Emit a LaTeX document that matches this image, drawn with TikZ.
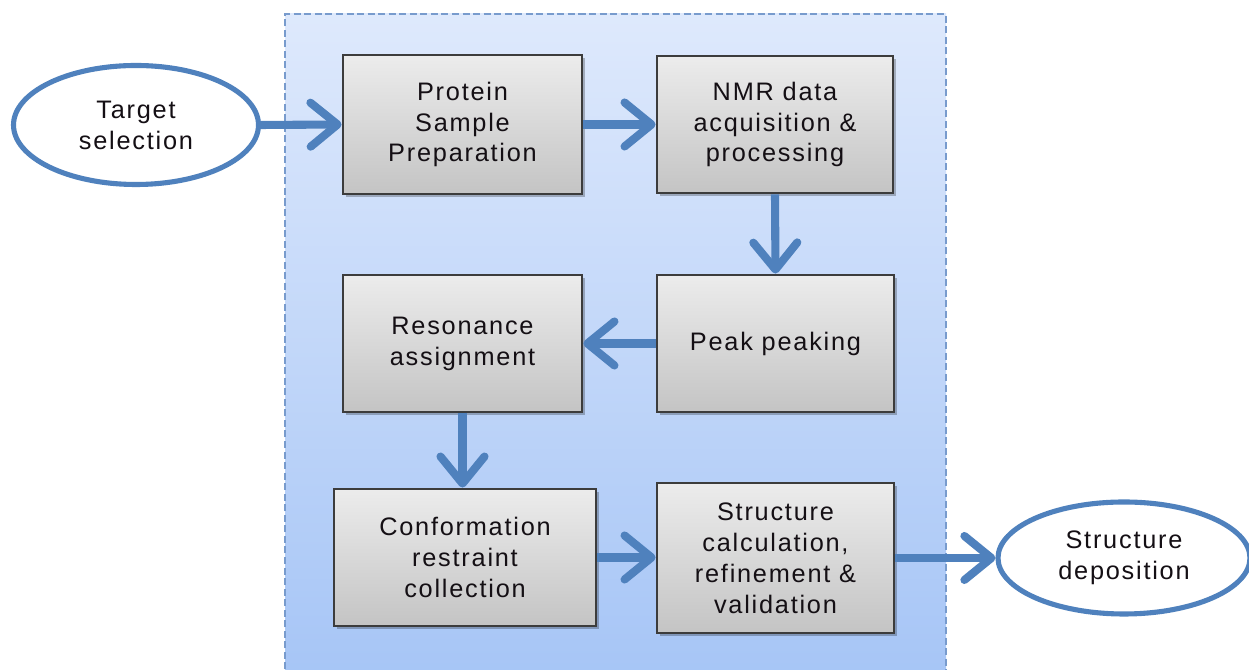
\documentclass[tikz,border=0pt]{standalone}
\usepackage{fontspec}
\setmainfont{Liberation Sans}[LetterSpace=7]
\usetikzlibrary{arrows.meta,shapes.geometric,shadows}

\definecolor{flowblue}{RGB}{79,129,189}
\definecolor{paneltop}{RGB}{222,233,252}
\definecolor{panelbot}{RGB}{166,197,246}
\definecolor{paneledge}{RGB}{120,155,205}
\definecolor{boxtop}{RGB}{236,236,236}
\definecolor{boxbot}{RGB}{196,196,196}
\definecolor{boxedge}{RGB}{60,60,60}
\definecolor{inktext}{RGB}{20,15,20}

\tikzset{
  label text/.style={font=\fontsize{7.2}{8.8}\selectfont, text=inktext, align=center},
  stepbox/.style={label text, rectangle, draw=boxedge, line width=0.8pt,
    top color=boxtop, bottom color=boxbot, inner sep=0pt,
    drop shadow={shadow xshift=0.025cm, shadow yshift=-0.035cm, opacity=0.25, fill=black}},
  endpoint/.style={label text, ellipse, draw=flowblue, line width=1.45pt, fill=white, inner sep=0pt},
  flow/.style={draw=flowblue, line width=2.3pt,
    -{Straight Barb[length=0.27cm, width=0.44cm, line cap=round, line join=round]}},
}

\begin{document}
\begin{tikzpicture}
\useasboundingbox (0,0) rectangle (12.49,6.70);
\begin{scope}
\clip (0,0) rectangle (12.49,6.70);

% pipeline panel
\shade[top color=paneltop, bottom color=panelbot] (2.85,-0.1) rectangle (9.46,6.56);
\draw[paneledge, dashed, line width=0.5pt, dash pattern=on 2pt off 1pt] (2.85,-0.1) rectangle (9.46,6.56);

% start and end
\node[endpoint, minimum width=2.45cm, minimum height=1.19cm] (target) at (1.36,5.45) {Target\\selection};
\node[endpoint, minimum width=2.52cm, minimum height=1.12cm] (deposit) at (11.24,1.12) {Structure\\deposition};

% processing steps
\node[stepbox, minimum width=2.39cm, minimum height=1.39cm] (sample) at (4.625,5.455) {Protein\\Sample\\Preparation};
\node[stepbox, minimum width=2.36cm, minimum height=1.37cm] (nmr) at (7.75,5.455) {NMR data\\acquisition \&\\processing};
\node[stepbox, minimum width=2.37cm, minimum height=1.37cm] (peak) at (7.755,3.265) {Peak peaking};
\node[stepbox, minimum width=2.39cm, minimum height=1.37cm] (reson) at (4.625,3.265) {Resonance\\assignment};
\node[stepbox, minimum width=2.62cm, minimum height=1.37cm] (conf) at (4.65,1.125) {Conformation\\restraint\\collection};
\node[stepbox, minimum width=2.37cm, minimum height=1.50cm] (calc) at (7.755,1.12) {Structure\\calculation,\\refinement \&\\validation};

% connectors
\draw[flow] (target.east) -- (sample.west);
\draw[flow] (sample.east) -- (nmr.west);
\draw[flow] (nmr.south) -- (peak.north);
\draw[flow] (peak.west) -- (reson.west -| reson.east);
\draw[flow] (reson.south) -- (reson.south |- conf.north);
\draw[flow] (conf.east) -- (conf.east -| calc.west);
\draw[flow] (calc.east) -- (deposit.west);
\end{scope}
\end{tikzpicture}
\end{document}
